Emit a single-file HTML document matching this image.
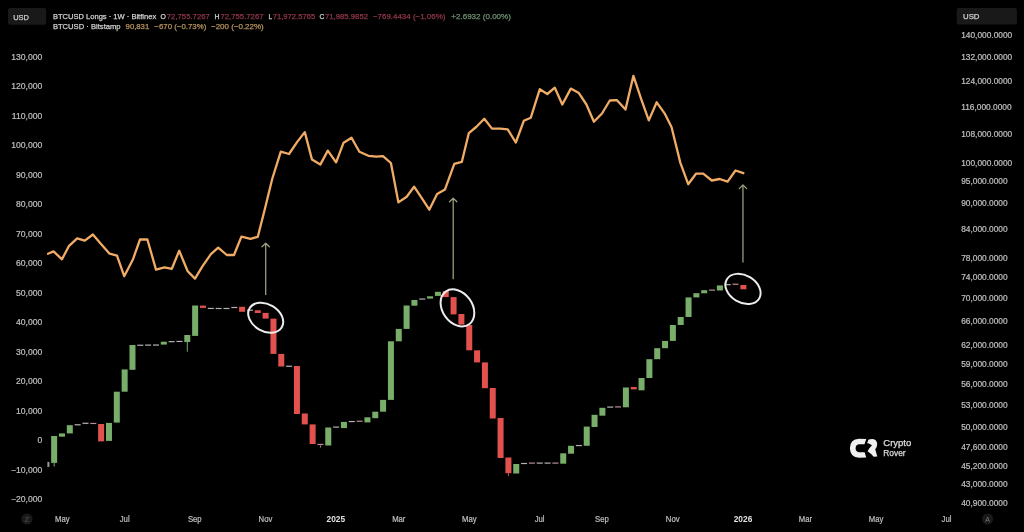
<!DOCTYPE html>
<html><head><meta charset="utf-8"><title>BTCUSD Longs vs BTCUSD</title>
<style>
html,body{margin:0;padding:0;background:#000;}
body{width:1024px;height:532px;overflow:hidden;position:relative;font-family:"Liberation Sans",Arial,sans-serif;}
svg{position:absolute;left:0;top:0;will-change:transform;filter:blur(0.5px);}
.ax{font-family:"Liberation Sans",Arial,sans-serif;font-size:8.6px;fill:#bfbfbf;stroke:#bfbfbf;stroke-width:0.22px;}
.b{font-weight:bold;fill:#e0e0e0;stroke:none;}
.r{font-size:8.35px;}
.hd{font-family:"Liberation Sans",Arial,sans-serif;font-size:7.9px;stroke-width:0.25px;}
</style></head>
<body>
<svg width="1024" height="532" viewBox="0 0 1024 532">
<rect x="0" y="0" width="1024" height="532" fill="#000"/>
<!-- header -->
<rect x="8" y="8" width="38.2" height="16.8" rx="2" fill="#19191a"/>
<text x="13.2" y="19.8" class="hd" fill="#cfcfcf" stroke="#cfcfcf" stroke-width="0.35" font-size="8.4" textLength="15.8" lengthAdjust="spacingAndGlyphs">USD</text>
<rect x="956.7" y="8" width="60.2" height="16.4" rx="2" fill="#19191a"/>
<text x="963" y="19.3" class="hd" fill="#cfcfcf" stroke="#cfcfcf" stroke-width="0.35" font-size="8.4" textLength="16.5" lengthAdjust="spacingAndGlyphs">USD</text>
<text x="52.9" y="18.8" class="hd" fill="#d2d2d2" stroke="#d2d2d2" stroke-width="0.25" textLength="103.3" lengthAdjust="spacingAndGlyphs">BTCUSD Longs · 1W · Bitfinex</text>
<text x="160.6" y="18.8" class="hd" fill="#d2d2d2" stroke="#d2d2d2" stroke-width="0.25" textLength="5.4" lengthAdjust="spacingAndGlyphs">O</text>
<text x="166.8" y="18.8" class="hd" fill="#8f3647" stroke="#8f3647" stroke-width="0.1" textLength="43.0" lengthAdjust="spacingAndGlyphs">72,755.7267</text>
<text x="214.6" y="18.8" class="hd" fill="#d2d2d2" stroke="#d2d2d2" stroke-width="0.25" textLength="5.0" lengthAdjust="spacingAndGlyphs">H</text>
<text x="220.5" y="18.8" class="hd" fill="#8f3647" stroke="#8f3647" stroke-width="0.1" textLength="43.0" lengthAdjust="spacingAndGlyphs">72,755.7267</text>
<text x="268.4" y="18.8" class="hd" fill="#d2d2d2" stroke="#d2d2d2" stroke-width="0.25" textLength="3.6" lengthAdjust="spacingAndGlyphs">L</text>
<text x="272.7" y="18.8" class="hd" fill="#8f3647" stroke="#8f3647" stroke-width="0.1" textLength="42.5" lengthAdjust="spacingAndGlyphs">71,972.5765</text>
<text x="319.5" y="18.8" class="hd" fill="#d2d2d2" stroke="#d2d2d2" stroke-width="0.25" textLength="4.9" lengthAdjust="spacingAndGlyphs">C</text>
<text x="325.0" y="18.8" class="hd" fill="#8f3647" stroke="#8f3647" stroke-width="0.1" textLength="43.0" lengthAdjust="spacingAndGlyphs">71,985.9852</text>
<text x="372.9" y="18.8" class="hd" fill="#8f3647" stroke="#8f3647" stroke-width="0.1" textLength="72.5" lengthAdjust="spacingAndGlyphs">−769.4434 (−1.06%)</text>
<text x="451.3" y="18.8" class="hd" fill="#6f8f72" stroke="#6f8f72" stroke-width="0.1" textLength="59.6" lengthAdjust="spacingAndGlyphs">+2.6932 (0.00%)</text>
<text x="52.9" y="28.6" class="hd" fill="#d2d2d2" stroke="#d2d2d2" stroke-width="0.25" textLength="67.7" lengthAdjust="spacingAndGlyphs">BTCUSD · Bitstamp</text>
<text x="125.6" y="28.6" class="hd" fill="#b8945f" stroke="#b8945f" stroke-width="0.1" textLength="23.6" lengthAdjust="spacingAndGlyphs">90,831</text>
<text x="154.3" y="28.6" class="hd" fill="#b8945f" stroke="#b8945f" stroke-width="0.1" textLength="52.0" lengthAdjust="spacingAndGlyphs">−670 (−0.73%)</text>
<text x="211.0" y="28.6" class="hd" fill="#b8945f" stroke="#b8945f" stroke-width="0.1" textLength="52.7" lengthAdjust="spacingAndGlyphs">−200 (−0.22%)</text>
<!-- candles -->
<rect x="47.4" y="461.9" width="2" height="5" fill="#9a9a9a"/>
<rect x="53.65" y="462.90" width="1" height="3.60" fill="#78ae6a"/>
<rect x="51.15" y="436.00" width="6.0" height="26.90" fill="#78ae6a"/>
<rect x="58.98" y="433.40" width="6.0" height="3.30" fill="#78ae6a"/>
<rect x="66.81" y="425.20" width="6.0" height="8.20" fill="#78ae6a"/>
<rect x="74.65" y="424.20" width="6.0" height="1.20" fill="#b3b3b3"/>
<rect x="82.48" y="422.70" width="6.0" height="1.20" fill="#b3b3b3"/>
<rect x="90.31" y="422.85" width="6.0" height="1.20" fill="#bd8d93"/>
<rect x="98.14" y="424.00" width="6.0" height="17.40" fill="#e1524f"/>
<rect x="105.97" y="422.90" width="6.0" height="18.00" fill="#78ae6a"/>
<rect x="113.81" y="391.70" width="6.0" height="30.90" fill="#78ae6a"/>
<rect x="121.64" y="369.40" width="6.0" height="22.30" fill="#78ae6a"/>
<rect x="129.47" y="345.00" width="6.0" height="24.80" fill="#78ae6a"/>
<rect x="137.30" y="344.65" width="6.0" height="1.20" fill="#b3b3b3"/>
<rect x="145.13" y="344.50" width="6.0" height="1.20" fill="#b3b3b3"/>
<rect x="152.97" y="344.45" width="6.0" height="1.20" fill="#b3b3b3"/>
<rect x="160.80" y="341.70" width="6.0" height="2.90" fill="#78ae6a"/>
<rect x="168.63" y="341.05" width="6.0" height="1.20" fill="#b3b3b3"/>
<rect x="176.46" y="340.85" width="6.0" height="1.20" fill="#b3b3b3"/>
<rect x="186.79" y="342.00" width="1" height="9.70" fill="#78ae6a"/>
<rect x="184.29" y="335.00" width="6.0" height="7.00" fill="#78ae6a"/>
<rect x="192.13" y="305.50" width="6.0" height="30.40" fill="#78ae6a"/>
<rect x="199.96" y="305.60" width="6.0" height="2.30" fill="#e1524f"/>
<rect x="207.79" y="307.85" width="6.0" height="1.20" fill="#b3b3b3"/>
<rect x="215.62" y="307.90" width="6.0" height="1.20" fill="#b3b3b3"/>
<rect x="223.45" y="307.90" width="6.0" height="1.20" fill="#b3b3b3"/>
<rect x="231.29" y="306.90" width="6.0" height="1.20" fill="#b3b3b3"/>
<rect x="239.12" y="306.80" width="6.0" height="5.00" fill="#e1524f"/>
<rect x="246.95" y="309.55" width="6.0" height="1.20" fill="#b3b3b3"/>
<rect x="254.78" y="310.30" width="6.0" height="2.70" fill="#e1524f"/>
<rect x="262.61" y="312.90" width="6.0" height="5.70" fill="#e1524f"/>
<rect x="270.45" y="318.60" width="6.0" height="35.30" fill="#e1524f"/>
<rect x="278.28" y="353.90" width="6.0" height="12.60" fill="#e1524f"/>
<rect x="286.11" y="365.65" width="6.0" height="1.20" fill="#b3b3b3"/>
<rect x="293.94" y="366.00" width="6.0" height="48.00" fill="#e1524f"/>
<rect x="301.77" y="413.50" width="6.0" height="10.90" fill="#e1524f"/>
<rect x="309.61" y="424.40" width="6.0" height="19.60" fill="#e1524f"/>
<rect x="319.94" y="445.50" width="1" height="2.00" fill="#bd8d93"/>
<rect x="317.44" y="443.85" width="6.0" height="1.20" fill="#bd8d93"/>
<rect x="325.27" y="427.50" width="6.0" height="18.00" fill="#78ae6a"/>
<rect x="333.10" y="426.50" width="6.0" height="1.20" fill="#b3b3b3"/>
<rect x="340.93" y="421.90" width="6.0" height="6.20" fill="#78ae6a"/>
<rect x="348.77" y="420.95" width="6.0" height="1.20" fill="#b3b3b3"/>
<rect x="356.60" y="420.65" width="6.0" height="1.20" fill="#bd8d93"/>
<rect x="364.43" y="417.30" width="6.0" height="5.10" fill="#78ae6a"/>
<rect x="372.26" y="411.70" width="6.0" height="6.50" fill="#78ae6a"/>
<rect x="380.09" y="399.90" width="6.0" height="11.80" fill="#78ae6a"/>
<rect x="387.93" y="341.30" width="6.0" height="58.60" fill="#78ae6a"/>
<rect x="395.76" y="328.90" width="6.0" height="12.40" fill="#78ae6a"/>
<rect x="403.59" y="305.50" width="6.0" height="23.40" fill="#78ae6a"/>
<rect x="411.42" y="300.00" width="6.0" height="5.70" fill="#78ae6a"/>
<rect x="419.25" y="298.45" width="6.0" height="1.20" fill="#b3b3b3"/>
<rect x="427.09" y="296.30" width="6.0" height="2.30" fill="#78ae6a"/>
<rect x="434.92" y="291.80" width="6.0" height="4.10" fill="#78ae6a"/>
<rect x="442.75" y="291.10" width="6.0" height="6.00" fill="#e1524f"/>
<rect x="450.58" y="297.10" width="6.0" height="17.30" fill="#e1524f"/>
<rect x="458.41" y="314.00" width="6.0" height="10.60" fill="#e1524f"/>
<rect x="466.25" y="325.00" width="6.0" height="25.30" fill="#e1524f"/>
<rect x="474.08" y="350.30" width="6.0" height="12.10" fill="#e1524f"/>
<rect x="481.91" y="362.40" width="6.0" height="25.80" fill="#e1524f"/>
<rect x="489.74" y="388.00" width="6.0" height="30.50" fill="#e1524f"/>
<rect x="497.57" y="418.00" width="6.0" height="40.00" fill="#e1524f"/>
<rect x="507.91" y="473.20" width="1" height="2.80" fill="#e1524f"/>
<rect x="505.41" y="457.50" width="6.0" height="15.70" fill="#e1524f"/>
<rect x="513.24" y="464.00" width="6.0" height="9.50" fill="#78ae6a"/>
<rect x="521.07" y="462.90" width="6.0" height="1.20" fill="#b3b3b3"/>
<rect x="528.90" y="462.50" width="6.0" height="1.20" fill="#bd8d93"/>
<rect x="536.73" y="462.50" width="6.0" height="1.20" fill="#b3b3b3"/>
<rect x="544.57" y="462.50" width="6.0" height="1.20" fill="#b3b3b3"/>
<rect x="552.40" y="462.50" width="6.0" height="1.20" fill="#bd8d93"/>
<rect x="560.23" y="453.30" width="6.0" height="10.40" fill="#78ae6a"/>
<rect x="568.06" y="445.80" width="6.0" height="7.90" fill="#78ae6a"/>
<rect x="575.89" y="444.95" width="6.0" height="1.20" fill="#b3b3b3"/>
<rect x="583.73" y="426.60" width="6.0" height="19.20" fill="#78ae6a"/>
<rect x="591.56" y="414.80" width="6.0" height="12.20" fill="#78ae6a"/>
<rect x="599.39" y="407.80" width="6.0" height="7.90" fill="#78ae6a"/>
<rect x="607.22" y="406.50" width="6.0" height="1.20" fill="#b3b3b3"/>
<rect x="615.05" y="406.30" width="6.0" height="1.20" fill="#bd8d93"/>
<rect x="622.89" y="387.50" width="6.0" height="19.80" fill="#78ae6a"/>
<rect x="630.72" y="387.00" width="6.0" height="2.40" fill="#e1524f"/>
<rect x="638.55" y="378.00" width="6.0" height="12.30" fill="#78ae6a"/>
<rect x="646.38" y="359.20" width="6.0" height="18.80" fill="#78ae6a"/>
<rect x="654.21" y="348.20" width="6.0" height="11.00" fill="#78ae6a"/>
<rect x="662.05" y="340.90" width="6.0" height="7.30" fill="#78ae6a"/>
<rect x="669.88" y="325.00" width="6.0" height="15.90" fill="#78ae6a"/>
<rect x="677.71" y="317.00" width="6.0" height="8.00" fill="#78ae6a"/>
<rect x="685.54" y="297.40" width="6.0" height="19.60" fill="#78ae6a"/>
<rect x="693.37" y="293.20" width="6.0" height="4.20" fill="#78ae6a"/>
<rect x="701.21" y="290.20" width="6.0" height="3.10" fill="#78ae6a"/>
<rect x="709.04" y="289.50" width="6.0" height="1.20" fill="#bd8d93"/>
<rect x="716.87" y="285.40" width="6.0" height="5.10" fill="#78ae6a"/>
<rect x="724.70" y="284.05" width="6.0" height="1.20" fill="#b3b3b3"/>
<rect x="732.53" y="283.65" width="6.0" height="1.20" fill="#bd8d93"/>
<rect x="740.37" y="285.00" width="6.0" height="4.30" fill="#e1524f"/>
<!-- price line -->
<polyline points="48,253.8 53.5,251.4 62,259.3 68.8,246.2 77.2,238.4 84.8,240.7 92.9,234.5 101,244 109.6,253.7 117,255.7 124.2,276.2 132.8,259.8 140,239.5 147.4,239.5 156,269.6 164.5,267.4 171.8,268.8 179.2,250.8 187.7,271.3 195,278.6 202.4,266.4 210.9,254.2 218.2,247.6 226.8,255 234,255 241.4,236.6 250.5,238.8 257.8,236.8 264.8,209.2 272.2,179 280.8,151.6 289,154 297.4,141.6 304.8,132.1 312,159.6 320.3,164.6 327.8,150.6 336.1,162.3 343.6,142.7 351.5,137.7 359.4,151.7 368.4,155.8 376.3,156.7 383,156.2 390.9,163 398.4,202.4 406.7,196.8 414.1,186.7 421.8,198.2 429.3,209.7 437.1,193.9 445,189.4 454.3,163.9 461.8,161.9 468.8,133.2 476.2,127 484.3,118.7 492,128.6 500.2,128.6 507.7,129.3 515.8,142.5 523.8,120.8 530.8,117.7 539.8,89.2 547.3,94 554.8,87.7 562.3,104.5 570.8,88.6 578.9,93.1 586.4,104.5 593.9,121.7 602,113.5 609.8,100.5 617,100.2 625.5,109.6 633.4,75.8 641.3,99.4 648.8,120.4 656.7,102.3 664.6,113.3 671.5,127 680.3,162.6 688.2,184.2 696,173.7 703.2,173.7 711.8,180.5 719.7,179 727.6,181.6 735.5,170.5 743.4,173.2" fill="none" stroke="#f0ac66" stroke-width="2.3" stroke-linejoin="round" stroke-linecap="round"/>
<!-- annotations -->
<ellipse cx="265.7" cy="317.7" rx="18.7" ry="13.5" transform="rotate(30.5 265.7 317.7)" fill="none" stroke="#ececec" stroke-width="2"/>
<ellipse cx="457.45" cy="307.9" rx="20.1" ry="14.9" transform="rotate(54.2 457.45 307.9)" fill="none" stroke="#ececec" stroke-width="2"/>
<ellipse cx="743.0" cy="288.9" rx="18.8" ry="13.6" transform="rotate(30.4 743.0 288.9)" fill="none" stroke="#ececec" stroke-width="2"/>
<line x1="265.7" y1="244.0" x2="265.7" y2="295.1" stroke="#9da380" stroke-width="1.25"/><polyline points="262.0,246.79999999999998 265.7,243.2 269.4,246.79999999999998" fill="none" stroke="#9da380" stroke-width="1.25" stroke-linecap="round" stroke-linejoin="round"/>
<line x1="453.2" y1="199.0" x2="453.2" y2="279.2" stroke="#9da380" stroke-width="1.25"/><polyline points="449.5,201.79999999999998 453.2,198.2 456.9,201.79999999999998" fill="none" stroke="#9da380" stroke-width="1.25" stroke-linecap="round" stroke-linejoin="round"/>
<line x1="742.95" y1="185.8" x2="742.95" y2="262.4" stroke="#9da380" stroke-width="1.25"/><polyline points="739.25,188.6 742.95,185.0 746.6500000000001,188.6" fill="none" stroke="#9da380" stroke-width="1.25" stroke-linecap="round" stroke-linejoin="round"/>
<!-- axes -->
<text x="42.3" y="59.9" text-anchor="end" class="ax">130,000</text>
<text x="42.3" y="89.3" text-anchor="end" class="ax">120,000</text>
<text x="42.3" y="118.8" text-anchor="end" class="ax">110,000</text>
<text x="42.3" y="148.3" text-anchor="end" class="ax">100,000</text>
<text x="42.3" y="177.8" text-anchor="end" class="ax">90,000</text>
<text x="42.3" y="207.3" text-anchor="end" class="ax">80,000</text>
<text x="42.3" y="236.7" text-anchor="end" class="ax">70,000</text>
<text x="42.3" y="266.2" text-anchor="end" class="ax">60,000</text>
<text x="42.3" y="295.7" text-anchor="end" class="ax">50,000</text>
<text x="42.3" y="325.2" text-anchor="end" class="ax">40,000</text>
<text x="42.3" y="354.7" text-anchor="end" class="ax">30,000</text>
<text x="42.3" y="384.1" text-anchor="end" class="ax">20,000</text>
<text x="42.3" y="413.6" text-anchor="end" class="ax">10,000</text>
<text x="42.3" y="443.1" text-anchor="end" class="ax">0</text>
<text x="42.3" y="472.6" text-anchor="end" class="ax">−10,000</text>
<text x="42.3" y="502.1" text-anchor="end" class="ax">−20,000</text>
<text x="961.2" y="38.0" class="ax r">140,000.0000</text>
<text x="961.2" y="60.4" class="ax r">132,000.0000</text>
<text x="961.2" y="84.2" class="ax r">124,000.0000</text>
<text x="961.2" y="110.0" class="ax r">116,000.0000</text>
<text x="961.2" y="137.0" class="ax r">108,000.0000</text>
<text x="961.2" y="166.0" class="ax r">100,000.0000</text>
<text x="961.2" y="184.0" class="ax r">95,000.0000</text>
<text x="961.2" y="206.0" class="ax r">90,000.0000</text>
<text x="961.2" y="232.4" class="ax r">84,000.0000</text>
<text x="961.2" y="260.8" class="ax r">78,000.0000</text>
<text x="961.2" y="280.4" class="ax r">74,000.0000</text>
<text x="961.2" y="301.3" class="ax r">70,000.0000</text>
<text x="961.2" y="323.8" class="ax r">66,000.0000</text>
<text x="961.2" y="347.9" class="ax r">62,000.0000</text>
<text x="961.2" y="366.8" class="ax r">59,000.0000</text>
<text x="961.2" y="386.7" class="ax r">56,000.0000</text>
<text x="961.2" y="407.7" class="ax r">53,000.0000</text>
<text x="961.2" y="429.7" class="ax r">50,000.0000</text>
<text x="961.2" y="449.6" class="ax r">47,600.0000</text>
<text x="961.2" y="468.5" class="ax r">45,200.0000</text>
<text x="961.2" y="487.4" class="ax r">43,000.0000</text>
<text x="961.2" y="506.4" class="ax r">40,900.0000</text>
<text x="54.99" y="522.2" class="ax" textLength="14.62" lengthAdjust="spacingAndGlyphs">May</text>
<text x="119.75" y="522.2" class="ax" textLength="9.89" lengthAdjust="spacingAndGlyphs">Jul</text>
<text x="187.91" y="522.2" class="ax" textLength="13.77" lengthAdjust="spacingAndGlyphs">Sep</text>
<text x="258.62" y="522.2" class="ax" textLength="13.76" lengthAdjust="spacingAndGlyphs">Nov</text>
<text x="326.52" y="522.2" class="ax b" textLength="18.56" lengthAdjust="spacingAndGlyphs">2025</text>
<text x="392.14" y="522.2" class="ax" textLength="13.33" lengthAdjust="spacingAndGlyphs">Mar</text>
<text x="461.99" y="522.2" class="ax" textLength="14.62" lengthAdjust="spacingAndGlyphs">May</text>
<text x="534.65" y="522.2" class="ax" textLength="9.89" lengthAdjust="spacingAndGlyphs">Jul</text>
<text x="595.11" y="522.2" class="ax" textLength="13.77" lengthAdjust="spacingAndGlyphs">Sep</text>
<text x="665.82" y="522.2" class="ax" textLength="13.76" lengthAdjust="spacingAndGlyphs">Nov</text>
<text x="733.72" y="522.2" class="ax b" textLength="18.56" lengthAdjust="spacingAndGlyphs">2026</text>
<text x="798.84" y="522.2" class="ax" textLength="13.33" lengthAdjust="spacingAndGlyphs">Mar</text>
<text x="868.69" y="522.2" class="ax" textLength="14.62" lengthAdjust="spacingAndGlyphs">May</text>
<text x="941.55" y="522.2" class="ax" textLength="9.89" lengthAdjust="spacingAndGlyphs">Jul</text>
<circle cx="27" cy="519" r="5.6" fill="#1a1a1a"/>
<text x="27" y="522" text-anchor="middle" font-family="Liberation Sans" font-size="7" fill="#5a5a5a">Z</text>
<circle cx="987.6" cy="519" r="5.6" fill="#1a1a1a"/>
<text x="987.6" y="522" text-anchor="middle" font-family="Liberation Sans" font-size="7" fill="#7a7a7a">A</text>
<!-- logo -->
<g transform="translate(846,435) scale(0.04888)" fill="#f0f0f0">
<path d="M415,80 L265,78 Q85,85 80,270 Q85,458 265,465 L415,462 L380,355 L275,355 Q198,345 196,270 Q200,195 275,190 L378,190 Z"/>
<path d="M458,98 Q478,83 545,83 Q632,92 638,190 Q636,250 598,292 L640,442 L565,447 L520,392 L442,330 L478,270 L532,212 L470,176 L432,168 Z"/>
</g>
<text x="883.3" y="446" font-family="Liberation Sans" font-size="8.4" fill="#dcdcdc" stroke="#dcdcdc" stroke-width="0.25" textLength="28" lengthAdjust="spacingAndGlyphs">Crypto</text>
<text x="883.3" y="455.8" font-family="Liberation Sans" font-size="8.4" fill="#dcdcdc" stroke="#dcdcdc" stroke-width="0.25" textLength="22.3" lengthAdjust="spacingAndGlyphs">Rover</text>
</svg>
</body></html>
